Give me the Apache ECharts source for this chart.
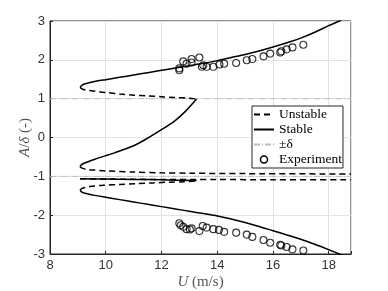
<!DOCTYPE html>
<html><head><meta charset="utf-8">
<script src="https://cdn.jsdelivr.net/npm/echarts@6/dist/echarts.min.js"></script>
<style>html,body{margin:0;padding:0;background:#fff}#c{width:388px;height:291px}</style>
</head><body><div id="c"></div>
<script>
// Upper stable branch
const s1X = [9.08, 9.15, 9.3, 9.6, 10, 10.5, 11, 11.5, 12, 12.5, 13, 13.5, 14, 14.5, 15, 15.5, 16, 16.5, 17, 17.5, 18, 18.45];
const s1Y = [1.29, 1.35, 1.39, 1.44, 1.49, 1.55, 1.61, 1.67, 1.73, 1.79, 1.85, 1.91, 1.98, 2.06, 2.14, 2.23, 2.33, 2.44, 2.56, 2.71, 2.88, 3.02];
// Upper unstable branch
const u1X = [9.08, 9.15, 9.3, 9.6, 10, 10.5, 11, 11.5, 12, 12.5, 13, 13.26];
const u1Y = [1.29, 1.25, 1.22, 1.19, 1.16, 1.12, 1.09, 1.07, 1.05, 1.03, 1.01, 0.99];
// Middle stable branch
const s2X = [13.26, 12.84, 12.48, 12.0, 11.52, 11.04, 10.33, 9.61, 9.2, 9.1, 9.08];
const s2Y = [0.99, 0.66, 0.43, 0.20, -0.01, -0.2, -0.39, -0.56, -0.67, -0.72, -0.75];
// Middle unstable branch (near -0.93)
const u2X = [9.08, 9.15, 9.3, 9.6, 10, 11, 12, 13, 15, 18.8];
const u2Y = [-0.75, -0.79, -0.82, -0.84, -0.86, -0.89, -0.91, -0.92, -0.93, -0.94];
// Flat stable branch near -1.07
const s4X = [9.08, 10, 11, 12, 13.26];
const s4Y = [-1.06, -1.07, -1.08, -1.09, -1.11];
// Flat unstable branch near -1.08
const u4X = [9.08, 10, 12, 14, 16, 18.8];
const u4Y = [-1.06, -1.07, -1.08, -1.08, -1.09, -1.09];
// Lower unstable branch
const u3X = [9.08, 9.15, 9.3, 9.6, 9.91, 10.5, 11.11, 11.7, 12.3, 12.8, 13.26];
const u3Y = [-1.36, -1.31, -1.28, -1.25, -1.23, -1.21, -1.19, -1.17, -1.15, -1.14, -1.12];
// Lower stable branch
const s3X = [9.08, 9.15, 9.3, 9.6, 10, 10.5, 11, 11.5, 12, 12.5, 13, 13.5, 14, 14.5, 15, 15.5, 16, 16.5, 17, 17.5, 18, 18.45];
const s3Y = [-1.36, -1.41, -1.44, -1.49, -1.54, -1.6, -1.66, -1.72, -1.78, -1.84, -1.9, -1.96, -2.02, -2.1, -2.19, -2.29, -2.4, -2.51, -2.62, -2.75, -2.89, -3.02];
// ±delta levels
const deltaLevels = [1, -1];
// Experiment (upper)
const expUpX = [12.64, 12.64, 12.78, 12.9, 13.08, 13.08, 13.36, 13.45, 13.5, 13.62, 13.86, 14.08, 14.25, 14.68, 15.06, 15.26, 15.66, 15.9, 16.26, 16.3, 16.49, 16.7, 17.09];
const expUpY = [1.73, 1.78, 1.96, 1.9, 2.02, 1.93, 2.06, 1.82, 1.86, 1.82, 1.82, 1.88, 1.9, 1.92, 1.99, 2.02, 2.09, 2.16, 2.19, 2.22, 2.27, 2.32, 2.39];
// Experiment (lower)
const expLoX = [12.64, 12.69, 12.78, 12.9, 13.02, 13.08, 13.36, 13.48, 13.62, 13.86, 14.06, 14.25, 14.68, 15.06, 15.26, 15.66, 15.9, 16.26, 16.3, 16.49, 16.7, 17.09];
const expLoY = [-2.21, -2.26, -2.3, -2.36, -2.37, -2.34, -2.41, -2.28, -2.32, -2.36, -2.38, -2.43, -2.45, -2.5, -2.56, -2.64, -2.71, -2.76, -2.78, -2.82, -2.88, -2.91];
// Axes
const xMin = 8, xMax = 18.8, xStep = 2;
const yMin = -3, yMax = 3, yStep = 1;
const legendNames = ['Unstable', 'Stable', '±δ', 'Experiment'];

const zip = (a, b) => a.map((v, i) => [v, b[i]]);
const serif = 'Liberation Serif';
const sans = 'Liberation Sans';

function lineSeries(name, xs, ys, dashed) {
  return {
    name: name, type: 'line', data: zip(xs, ys), showSymbol: false, symbol: 'none',
    smooth: 0.3, animation: false, z: 3, color: '#000',
    itemStyle: { color: '#000' },
    lineStyle: { color: '#000', width: 1.5, type: dashed ? [6, 4] : 'solid' }
  };
}
const series = [
  lineSeries('Unstable', u1X, u1Y, true),
  lineSeries('Unstable', u2X, u2Y, true),
  lineSeries('Unstable', u3X, u3Y, true),
  lineSeries('Unstable', u4X, u4Y, true),
  lineSeries('Stable', s1X, s1Y, false),
  lineSeries('Stable', s2X, s2Y, false),
  lineSeries('Stable', s3X, s3Y, false),
  lineSeries('Stable', s4X, s4Y, false)
];
deltaLevels.forEach(v => series.push({
  name: '±δ', type: 'line', data: [[xMin, v], [xMax, v]], showSymbol: false, symbol: 'none',
  animation: false, z: 2, color: '#bdbdbd', itemStyle: { color: '#bdbdbd' },
  lineStyle: { color: '#bdbdbd', width: 1, type: [6, 2, 1, 2] }
}));
[[expUpX, expUpY], [expLoX, expLoY]].forEach(p => series.push({
  name: 'Experiment', type: 'scatter', data: zip(p[0], p[1]), symbol: 'circle',
  symbolSize: 7, animation: false, z: 4, color: '#000',
  itemStyle: { color: 'rgba(0,0,0,0)', borderColor: '#000', borderWidth: 1.1 }
}));

const chart = echarts.init(document.getElementById('c'), null, { renderer: 'canvas' });
chart.setOption({
  animation: false,
  backgroundColor: '#fff',
  grid: { left: 50, top: 21, width: 301, height: 233, show: true, borderColor: '#262626', borderWidth: 1, backgroundColor: 'transparent', containLabel: false, outerBoundsMode: 'none' },
  xAxis: {
    type: 'value', min: xMin, max: xMax, interval: xStep,
    name: '{i|U} (m/s)', nameLocation: 'middle', nameGap: 21, nameMoveOverlap: false,
    nameTextStyle: { fontFamily: serif, fontSize: 15, color: '#555', rich: { i: { fontFamily: serif, fontStyle: 'italic', fontSize: 15, color: '#555' } } },
    axisLine: { show: true, onZero: false, lineStyle: { color: '#262626', width: 1 } },
    axisTick: { show: true, inside: true, length: 3, lineStyle: { color: '#262626' } },
    axisLabel: { fontFamily: sans, fontSize: 13, color: '#333', margin: 5,
      formatter: v => (Math.abs(v - Math.round(v)) < 1e-6 && Math.round(v) % 2 === 0) ? String(Math.round(v)) : '' },
    splitLine: { show: true, lineStyle: { color: '#e2e2e2', width: 1 } }
  },
  yAxis: {
    type: 'value', min: yMin, max: yMax, interval: yStep,
    name: '{i|A}/{i|δ} (-)', nameLocation: 'middle', nameGap: 17, nameRotate: 90, nameMoveOverlap: false,
    nameTextStyle: { fontFamily: serif, fontSize: 15, color: '#555', rich: { i: { fontFamily: serif, fontStyle: 'italic', fontSize: 15, color: '#555' } } },
    axisLine: { show: true, onZero: false, lineStyle: { color: '#262626', width: 1 } },
    axisTick: { show: true, inside: true, length: 3, lineStyle: { color: '#262626' } },
    axisLabel: { fontFamily: sans, fontSize: 13, color: '#333', margin: 5 },
    splitLine: { show: true, lineStyle: { color: '#e2e2e2', width: 1 } }
  },
  legend: {
    show: true, orient: 'vertical', left: 252, top: 106,
    data: [
      { name: legendNames[0], itemStyle: { opacity: 0 } },
      { name: legendNames[1], itemStyle: { opacity: 0 } },
      { name: legendNames[2], itemStyle: { opacity: 0 } },
      { name: legendNames[3], icon: 'circle', itemStyle: { color: 'rgba(0,0,0,0)', borderColor: '#000', borderWidth: 1.5, opacity: 1 } }
    ],
    backgroundColor: '#fff', borderColor: '#262626', borderWidth: 1,
    padding: [1, 1, 1, 1], itemGap: 0, itemWidth: 20, itemHeight: 7,
    textStyle: { fontFamily: serif, fontSize: 13.5, color: '#000', lineHeight: 15, height: 15 },
    selectedMode: false
  },
  series: series
});
</script></body></html>
